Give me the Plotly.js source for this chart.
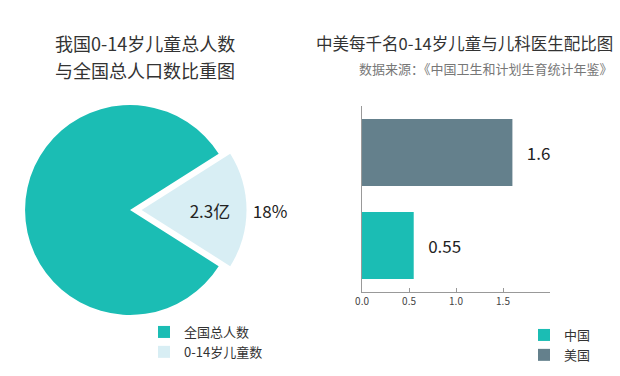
<!DOCTYPE html>
<html>
<head>
<meta charset="utf-8">
<script src="https://cdn.plot.ly/plotly-3.0.1.min.js"></script>
<style>html,body{margin:0;padding:0;background:#fff;}#chart{width:620px;height:376px;}</style>
</head>
<body>
<div id="chart"></div>
<script>
// Pie data (亿人)
const pieLabels = ['全国总人数', '0-14岁儿童数'];
const pieValues = [10.5, 2.3];
// Bar data: pediatricians per 1000 children aged 0-14
const barCountries = ['中国', '美国'];
const barValues = [0.55, 1.6];
const xTickVals = [0, 0.5, 1.0, 1.5];
const xTickText = ['0.0', '0.5', '1.0', '1.5'];

const FONT = '"Noto Sans CJK SC", "Noto Sans", sans-serif';
const teal = '#1bbdb4';
const light = '#d8eef4';
const slate = '#64808c';

const pieDomain = {x: [0.0218, 0.3976], y: [0.1316, 0.7513]};
const pull = [0, 0.11];
const smallShare = pieValues[1] / (pieValues[0] + pieValues[1]);
const pieRotation = 90 + 180 * smallShare;

const traces = [
  {
    type: 'pie', labels: pieLabels, values: pieValues, sort: false,
    direction: 'clockwise', rotation: pieRotation,
    domain: pieDomain, pull: pull,
    marker: {colors: [teal, light], line: {width: 0}},
    texttemplate: ['', '%{value}亿'], textposition: ['none', 'inside'],
    insidetextorientation: 'horizontal',
    textfont: {family: FONT, size: 17, color: '#222'},
    hoverinfo: 'skip', legend: 'legend'
  },
  {
    type: 'pie', labels: pieLabels, values: pieValues, sort: false,
    direction: 'clockwise', rotation: pieRotation,
    domain: pieDomain, pull: pull,
    marker: {colors: ['rgba(0,0,0,0)', 'rgba(0,0,0,0)'], line: {width: 0}},
    texttemplate: ['', '%{percent:.0%}'], textposition: ['none', 'outside'],
    textfont: {family: FONT, size: 17, color: '#222'},
    hoverinfo: 'skip', showlegend: false
  },
  {
    type: 'bar', orientation: 'h', name: barCountries[0],
    y: [barCountries[0]], x: [barValues[0]],
    marker: {color: teal},
    texttemplate: '   %{x}', textposition: 'outside', cliponaxis: false,
    textfont: {family: FONT, size: 17, color: '#222'},
    hoverinfo: 'skip', legend: 'legend2'
  },
  {
    type: 'bar', orientation: 'h', name: barCountries[1],
    y: [barCountries[1]], x: [barValues[1]],
    marker: {color: slate},
    texttemplate: '   %{x}', textposition: 'outside', cliponaxis: false,
    textfont: {family: FONT, size: 17, color: '#222'},
    hoverinfo: 'skip', legend: 'legend2'
  }
];

const layout = {
  width: 620, height: 376,
  margin: {l: 0, r: 0, t: 0, b: 0},
  paper_bgcolor: '#ffffff', plot_bgcolor: '#ffffff',
  font: {family: FONT, color: '#333'},
  barmode: 'overlay', bargap: 0.28,
  xaxis: {
    domain: [0.5839, 0.8871], range: [0, 2],
    tickvals: xTickVals, ticktext: xTickText,
    ticks: 'inside', ticklen: 4, tickcolor: '#999',
    showline: true, linecolor: '#999', linewidth: 1,
    showgrid: false, zeroline: false,
    tickfont: {family: FONT, size: 10, color: '#444'}, fixedrange: true
  },
  yaxis: {
    domain: [0.2234, 0.7181],
    type: 'category', categoryorder: 'array', categoryarray: barCountries,
    range: [-0.5, 1.5],
    showticklabels: false, ticks: '',
    showline: true, linecolor: '#999', linewidth: 1,
    showgrid: false, zeroline: false, fixedrange: true
  },
  legend: {
    x: 144 / 620, xanchor: 'left', y: 1 - 317 / 376, yanchor: 'top',
    font: {family: FONT, size: 13, color: '#333'},
    bgcolor: 'rgba(0,0,0,0)', traceorder: 'normal'
  },
  legend2: {
    x: 524 / 620, xanchor: 'left', y: 1 - 320 / 376, yanchor: 'top',
    font: {family: FONT, size: 13, color: '#333'},
    bgcolor: 'rgba(0,0,0,0)', traceorder: 'normal'
  },
  annotations: [
    {text: '我国0-14岁儿童总人数', x: 145 / 620, y: 1 - 43 / 376, xref: 'paper', yref: 'paper',
     xanchor: 'center', yanchor: 'middle', showarrow: false, font: {family: FONT, size: 18, color: '#333'}},
    {text: '与全国总人口数比重图', x: 145 / 620, y: 1 - 70 / 376, xref: 'paper', yref: 'paper',
     xanchor: 'center', yanchor: 'middle', showarrow: false, font: {family: FONT, size: 18, color: '#333'}},
    {text: '中美每千名0-14岁儿童与儿科医生配比图', x: 615 / 620, y: 1 - 43 / 376, xref: 'paper', yref: 'paper',
     xanchor: 'right', yanchor: 'middle', showarrow: false, font: {family: FONT, size: 16.5, color: '#333'}},
    {text: '数据来源：《中国卫生和计划生育统计年鉴》', x: 615 / 620, y: 1 - 68 / 376, xref: 'paper', yref: 'paper',
     xanchor: 'right', yanchor: 'middle', showarrow: false, font: {family: FONT, size: 13, color: '#777'}}
  ]
};

Plotly.newPlot('chart', traces, layout, {displayModeBar: false, staticPlot: true});
</script>
</body>
</html>
